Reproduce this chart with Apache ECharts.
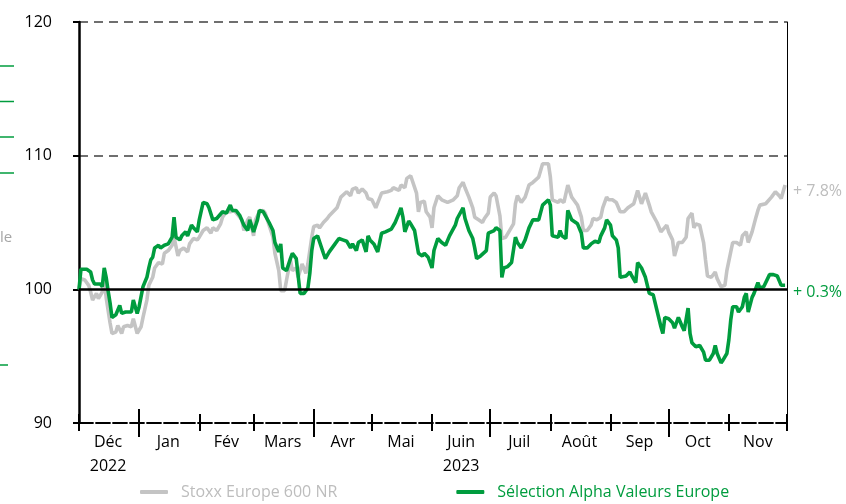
<!DOCTYPE html>
<html><head><meta charset="utf-8">
<script src="https://cdn.jsdelivr.net/npm/echarts@6/dist/echarts.min.js"></script>
<style>html,body{margin:0;padding:0;background:#fff}#c{width:846px;height:504px}</style>
</head><body><div id="c"></div>
<script>
// ---- data ----
const monthLabels = ['Déc','Jan','Fév','Mars','Avr','Mai','Juin','Juil','Août','Sep','Oct','Nov'];
const labelDates = ['2022-12-16','2023-01-16','2023-02-15','2023-03-16','2023-04-16','2023-05-16','2023-06-16','2023-07-16','2023-08-16','2023-09-16','2023-10-16','2023-11-16'];
const yearLabels = ['2022','','','','','','2023','','','','',''];
const monthStarts = ['2022-12-01','2023-02-01','2023-03-01','2023-05-01','2023-06-01','2023-08-01','2023-09-01','2023-11-01','2023-12-01'];
const quarterStarts = ['2023-01-01','2023-04-01','2023-07-01','2023-10-01'];
const yTicks = [90, 100, 110, 120];
const endLabels = ['+ 7.8%', '+ 0.3%'];

const stoxxDates = ['2022-12-01','2022-12-02','2022-12-04','2022-12-06','2022-12-07','2022-12-08','2022-12-10','2022-12-11','2022-12-13','2022-12-14','2022-12-15','2022-12-17','2022-12-18','2022-12-20','2022-12-21','2022-12-23','2022-12-24','2022-12-26','2022-12-28','2022-12-29','2022-12-31',
'2023-01-02','2023-01-03','2023-01-05','2023-01-06','2023-01-08','2023-01-09','2023-01-11','2023-01-13','2023-01-14','2023-01-16','2023-01-18','2023-01-19','2023-01-21','2023-01-22','2023-01-24','2023-01-26','2023-01-27','2023-01-29','2023-01-31',
'2023-02-01','2023-02-03','2023-02-05','2023-02-07','2023-02-08','2023-02-10','2023-02-12','2023-02-13','2023-02-15','2023-02-17','2023-02-19','2023-02-20','2023-02-23','2023-02-24','2023-02-26','2023-02-27',
'2023-03-01','2023-03-02','2023-03-04','2023-03-06','2023-03-07','2023-03-09','2023-03-11','2023-03-12','2023-03-14','2023-03-15','2023-03-17','2023-03-18','2023-03-20','2023-03-21','2023-03-23','2023-03-24','2023-03-26','2023-03-28','2023-03-29','2023-03-31',
'2023-04-01','2023-04-03','2023-04-04','2023-04-06','2023-04-08','2023-04-09','2023-04-11','2023-04-13','2023-04-15','2023-04-16','2023-04-18','2023-04-20','2023-04-21','2023-04-23','2023-04-24','2023-04-26','2023-04-28','2023-04-29',
'2023-05-01','2023-05-03','2023-05-04','2023-05-06','2023-05-07','2023-05-09','2023-05-11','2023-05-12','2023-05-15','2023-05-16','2023-05-18','2023-05-19','2023-05-21','2023-05-22','2023-05-24','2023-05-25','2023-05-26','2023-05-28','2023-05-29','2023-05-31',
'2023-06-01','2023-06-02','2023-06-04','2023-06-06','2023-06-07','2023-06-09','2023-06-10','2023-06-12','2023-06-14','2023-06-15','2023-06-17','2023-06-18','2023-06-20','2023-06-22','2023-06-23','2023-06-25','2023-06-27','2023-06-28','2023-06-30',
'2023-07-01','2023-07-03','2023-07-04','2023-07-06','2023-07-07','2023-07-09','2023-07-10','2023-07-13','2023-07-14','2023-07-15','2023-07-17','2023-07-19','2023-07-21','2023-07-23','2023-07-24','2023-07-26','2023-07-28','2023-07-29','2023-07-31',
'2023-08-01','2023-08-02','2023-08-05','2023-08-06','2023-08-08','2023-08-09','2023-08-10','2023-08-12','2023-08-13','2023-08-15','2023-08-17','2023-08-18','2023-08-20','2023-08-22','2023-08-23','2023-08-25','2023-08-27','2023-08-28','2023-08-30','2023-08-31',
'2023-09-02','2023-09-04','2023-09-06','2023-09-08','2023-09-10','2023-09-11','2023-09-13','2023-09-15','2023-09-16','2023-09-17','2023-09-19','2023-09-21','2023-09-22','2023-09-25','2023-09-27','2023-09-28','2023-09-30',
'2023-10-01','2023-10-03','2023-10-04','2023-10-06','2023-10-08','2023-10-10','2023-10-11','2023-10-13','2023-10-14','2023-10-15','2023-10-17','2023-10-19','2023-10-20','2023-10-21','2023-10-23','2023-10-25','2023-10-26','2023-10-28','2023-10-30','2023-10-31',
'2023-11-02','2023-11-03','2023-11-05','2023-11-07','2023-11-08','2023-11-10','2023-11-11','2023-11-13','2023-11-15','2023-11-16','2023-11-17','2023-11-20','2023-11-21','2023-11-23','2023-11-25','2023-11-27','2023-11-28','2023-11-30'];
const stoxxValues = [100.0,100.8,100.7,100.3,99.8,99.2,99.7,99.3,99.8,100.7,99.4,97.5,96.7,96.8,97.3,96.7,97.2,97.3,97.2,97.8,96.7,
97.2,97.9,99.2,100.3,100.9,101.6,102.0,101.9,102.7,102.9,103.3,103.9,102.5,102.9,103.1,102.8,103.4,103.8,103.7,
103.9,104.4,104.6,104.2,104.6,104.4,104.9,105.4,105.8,105.8,105.9,105.8,105.2,104.4,105.2,105.4,
104.0,105.2,105.8,105.9,105.7,104.8,103.9,102.7,101.4,99.9,99.9,100.7,102.2,101.4,101.6,100.9,101.9,101.2,101.9,103.9,
104.7,104.8,104.6,105.0,105.3,105.5,105.8,106.1,106.9,107.0,107.3,107.0,107.5,107.6,107.2,107.5,107.2,106.8,
106.7,106.1,106.1,107.2,107.3,107.3,107.4,107.6,107.4,107.8,107.6,108.3,108.5,108.4,107.2,105.8,106.5,106.6,105.8,105.4,
104.6,106.1,107.0,106.7,106.8,106.5,106.5,106.7,107.0,107.6,108.0,107.6,106.9,106.1,105.4,105.2,105.0,105.3,105.7,
106.9,107.2,107.0,105.5,103.8,103.9,104.0,104.9,106.4,107.0,106.5,106.9,107.8,108.0,108.0,108.4,109.4,109.3,109.4,
108.4,106.7,106.5,106.7,106.5,106.6,107.8,106.9,106.7,106.3,105.4,104.4,104.4,104.8,105.3,105.2,105.4,106.1,106.9,106.7,
106.7,106.5,105.8,105.8,106.1,106.1,106.4,107.4,107.3,106.4,107.2,106.3,105.8,105.0,104.3,104.2,104.8,
104.3,103.7,102.5,103.5,103.5,103.9,105.3,105.7,104.6,104.9,104.8,103.5,102.2,101.0,100.9,101.3,100.8,100.2,100.3,101.4,
102.8,103.5,103.5,103.3,104.0,104.3,103.5,104.3,105.4,105.9,106.3,106.4,106.4,106.9,107.3,107.0,106.8,107.8];

const alphaDates = ['2022-12-01','2022-12-02','2022-12-05','2022-12-07','2022-12-08','2022-12-09','2022-12-10','2022-12-12','2022-12-13','2022-12-14','2022-12-15','2022-12-16','2022-12-17','2022-12-18','2022-12-20','2022-12-21','2022-12-22','2022-12-23','2022-12-25','2022-12-26','2022-12-28','2022-12-29','2022-12-31',
'2023-01-01','2023-01-03','2023-01-05','2023-01-06','2023-01-07','2023-01-08','2023-01-09','2023-01-11','2023-01-12','2023-01-14','2023-01-16','2023-01-18','2023-01-19','2023-01-20','2023-01-22','2023-01-23','2023-01-25','2023-01-26','2023-01-28','2023-01-29','2023-01-31',
'2023-02-01','2023-02-03','2023-02-05','2023-02-06','2023-02-08','2023-02-10','2023-02-11','2023-02-13','2023-02-15','2023-02-17','2023-02-18','2023-02-20','2023-02-22','2023-02-24','2023-02-26','2023-02-27',
'2023-03-01','2023-03-03','2023-03-04','2023-03-06','2023-03-07','2023-03-09','2023-03-11','2023-03-12','2023-03-14','2023-03-15','2023-03-16','2023-03-18','2023-03-20','2023-03-21','2023-03-23','2023-03-24','2023-03-25','2023-03-27','2023-03-29','2023-03-30','2023-03-31',
'2023-04-01','2023-04-03','2023-04-04','2023-04-06','2023-04-07','2023-04-09','2023-04-12','2023-04-14','2023-04-16','2023-04-18','2023-04-20','2023-04-21','2023-04-23','2023-04-24','2023-04-26','2023-04-28','2023-04-29','2023-04-30',
'2023-05-02','2023-05-03','2023-05-04','2023-05-06','2023-05-08','2023-05-09','2023-05-11','2023-05-13','2023-05-15','2023-05-16','2023-05-17','2023-05-18','2023-05-20','2023-05-21','2023-05-23','2023-05-25','2023-05-27','2023-05-28','2023-05-30',
'2023-06-01','2023-06-02','2023-06-04','2023-06-06','2023-06-08','2023-06-10','2023-06-13','2023-06-14','2023-06-17','2023-06-18','2023-06-20','2023-06-22','2023-06-23','2023-06-24','2023-06-26','2023-06-27','2023-06-29','2023-06-30',
'2023-07-03','2023-07-04','2023-07-06','2023-07-07','2023-07-08','2023-07-10','2023-07-12','2023-07-14','2023-07-15','2023-07-17','2023-07-19','2023-07-21','2023-07-23','2023-07-24','2023-07-26','2023-07-27','2023-07-28','2023-07-31',
'2023-08-01','2023-08-02','2023-08-05','2023-08-06','2023-08-07','2023-08-09','2023-08-10','2023-08-12','2023-08-13','2023-08-15','2023-08-17','2023-08-18','2023-08-20','2023-08-22','2023-08-24','2023-08-26','2023-08-27','2023-08-29','2023-08-30',
'2023-09-01','2023-09-02','2023-09-04','2023-09-05','2023-09-06','2023-09-09','2023-09-11','2023-09-12','2023-09-14','2023-09-15','2023-09-17','2023-09-19','2023-09-20','2023-09-21','2023-09-23','2023-09-25','2023-09-27','2023-09-28','2023-09-29',
'2023-10-01','2023-10-03','2023-10-04','2023-10-05','2023-10-06','2023-10-08','2023-10-09','2023-10-11','2023-10-12','2023-10-13','2023-10-15','2023-10-17','2023-10-19','2023-10-20','2023-10-22','2023-10-24','2023-10-25','2023-10-26','2023-10-28','2023-10-29','2023-10-31',
'2023-11-01','2023-11-02','2023-11-03','2023-11-05','2023-11-06','2023-11-08','2023-11-09','2023-11-10','2023-11-11','2023-11-13','2023-11-14','2023-11-16','2023-11-17','2023-11-19','2023-11-20','2023-11-22','2023-11-24','2023-11-26','2023-11-28','2023-11-29','2023-11-30'];
const alphaValues = [100.0,101.5,101.5,101.3,100.7,100.4,100.5,100.4,100.2,101.6,100.9,99.9,99.0,97.9,98.1,98.2,98.8,98.2,98.3,98.4,98.3,99.2,98.2,
98.7,100.2,100.9,101.6,102.2,102.4,103.1,103.3,103.1,103.3,103.4,103.9,105.4,103.9,103.7,104.0,104.3,104.0,104.8,104.6,104.3,
105.2,106.5,106.4,106.1,105.2,105.3,105.3,105.8,105.7,106.3,105.9,105.9,105.5,104.8,104.4,105.2,
104.3,105.2,105.9,105.8,105.7,105.0,104.4,103.5,102.8,103.4,101.6,101.4,102.3,102.7,102.3,102.2,99.7,99.7,100.1,101.2,102.9,
103.8,104.0,103.9,102.7,102.3,102.8,103.4,103.8,103.7,103.6,103.1,103.4,102.9,103.5,103.7,102.8,104.0,103.7,
103.4,103.1,102.8,104.2,104.3,104.4,104.5,105.0,105.7,106.1,105.4,104.3,105.1,104.9,104.4,102.7,102.5,102.7,102.4,
101.6,102.9,103.8,103.5,103.3,104.0,104.8,105.3,106.1,105.3,104.4,103.8,103.1,102.3,102.5,102.4,102.9,104.2,
104.4,104.6,104.4,100.9,101.6,101.7,102.0,103.9,103.5,103.1,103.7,104.6,105.2,105.2,105.2,105.2,106.3,106.7,
106.3,104.0,103.9,104.4,104.0,103.8,105.9,105.2,105.2,104.9,104.2,103.1,103.1,103.4,103.6,103.5,104.0,104.6,105.2,
104.8,104.0,103.7,103.1,100.9,101.0,101.3,101.0,100.5,102.0,101.6,100.9,101.0,99.7,99.6,98.4,97.2,96.7,97.9,
97.8,97.5,97.1,97.5,97.9,97.2,96.9,98.6,96.7,96.0,95.7,95.8,95.3,94.7,94.7,95.2,95.8,95.2,94.5,94.7,95.2,
96.2,97.7,98.7,98.7,98.3,98.7,99.4,99.7,98.3,99.4,99.7,100.5,100.1,100.2,100.3,101.1,101.1,101.0,100.3,100.2,100.3];

// ---- helpers ----
function t(s){ const p = s.split('-').map(Number); return new Date(p[0], p[1]-1, p[2]).getTime(); }
const labelTimes = labelDates.map(t);
const monthTimes = monthStarts.map(t);
const quarterTimes = quarterStarts.map(t);
const X_MIN = t('2022-12-01'), X_MAX = t('2023-12-01');
const GREEN = '#009c3e', GRAY = '#c4c4c4', GRAYTXT = '#bdbdbd';
const FONT = 'Open Sans';

function xAx(extra){
  return Object.assign({
    type:'value', min:X_MIN, max:X_MAX, position:'bottom', scale:true,
    axisLine:{show:false}, axisLabel:{show:false}, splitLine:{show:false},
    axisPointer:{show:false}
  }, extra);
}

const chart = echarts.init(document.getElementById('c'), null, {renderer:'canvas'});
chart.setOption({
  animation:false,
  backgroundColor:'#fff',
  textStyle:{fontFamily:FONT},
  grid:{left:79, right:59, top:22, bottom:81, containLabel:false},
  xAxis:[
    xAx({
      axisLine:{show:true, lineStyle:{color:'#000', width:1.8, type:[14,3]}},
      axisTick:{show:true, customValues:monthTimes, length:8, lineStyle:{color:'#000', width:2}},
      axisLabel:{show:true, customValues:labelTimes, color:'#000', fontSize:16, fontFamily:FONT, fontWeight:'normal',
        lineHeight:24, margin:7,
        formatter:function(v){ const i = labelTimes.indexOf(v); if(i<0) return ''; return yearLabels[i] ? monthLabels[i]+'\n'+yearLabels[i] : monthLabels[i]; }}
    }),
    xAx({axisTick:{show:true, inside:true, customValues:monthTimes, length:9, lineStyle:{color:'#000', width:2}}}),
    xAx({axisTick:{show:true, customValues:quarterTimes, length:14, lineStyle:{color:'#000', width:2}}}),
    xAx({axisTick:{show:true, inside:true, customValues:quarterTimes, length:14, lineStyle:{color:'#000', width:2}}})
  ],
  yAxis:[
    {type:'value', min:yTicks[0], max:yTicks[yTicks.length-1], interval:10, position:'left',
      axisLine:{show:true, lineStyle:{color:'#000', width:2.5}},
      axisTick:{show:true, length:6, lineStyle:{color:'#000', width:2}},
      axisLabel:{color:'#000', fontSize:16, fontFamily:FONT, margin:27, padding:[0,0,12,0]},
      splitLine:{show:true, lineStyle:{color:['transparent','transparent','#404040','#404040'], width:1.5, type:[9,6]}}
    },
    {type:'value', min:yTicks[0], max:yTicks[yTicks.length-1], interval:10, position:'right',
      axisLine:{show:true, lineStyle:{color:'#000', width:1}},
      axisTick:{show:false}, axisLabel:{show:false}, splitLine:{show:false}
    }
  ],
  legend:{
    left:140, top:484, padding:0, itemWidth:28, itemHeight:4, itemGap:119, icon:'roundRect',
    textStyle:{fontSize:16, fontFamily:FONT, padding:[0,0,0,8]},
    data:[
      {name:'Stoxx Europe 600 NR', textStyle:{color:GRAYTXT}},
      {name:'Sélection Alpha Valeurs Europe', textStyle:{color:GREEN}}
    ]
  },
  series:[
    {type:'line', name:'ref100', data:[], z:1, silent:true,
      markLine:{silent:true, symbol:'none', label:{show:false}, lineStyle:{color:'#000', width:2.5, type:'solid'}, data:[{yAxis:100}]}},
    {type:'line', name:'Stoxx Europe 600 NR', z:3, showSymbol:false, symbol:'none',
      data: stoxxDates.map((d,i)=>[t(d), stoxxValues[i]]),
      lineStyle:{color:GRAY, width:3.6}, itemStyle:{color:GRAY},
      endLabel:{show:true, formatter:endLabels[0], color:GRAYTXT, fontSize:16, fontFamily:FONT, offset:[0,6]}},
    {type:'line', name:'Sélection Alpha Valeurs Europe', z:4, showSymbol:false, symbol:'none',
      data: alphaDates.map((d,i)=>[t(d), alphaValues[i]]),
      lineStyle:{color:GREEN, width:3.6}, itemStyle:{color:GREEN},
      endLabel:{show:true, formatter:endLabels[1], color:GREEN, fontSize:16, fontFamily:FONT, offset:[0,7]}}
  ],
  graphic:[
    {type:'line', shape:{x1:0,y1:66,x2:14,y2:66}, style:{stroke:GREEN, lineWidth:1.5}},
    {type:'line', shape:{x1:0,y1:101.5,x2:14,y2:101.5}, style:{stroke:GREEN, lineWidth:1.5}},
    {type:'line', shape:{x1:0,y1:137,x2:14,y2:137}, style:{stroke:GREEN, lineWidth:1.5}},
    {type:'line', shape:{x1:0,y1:173,x2:14,y2:173}, style:{stroke:GREEN, lineWidth:1.5}},
    {type:'line', shape:{x1:0,y1:365,x2:8,y2:365}, style:{stroke:GREEN, lineWidth:1.5}},
    {type:'text', left:0, top:230, style:{text:'le', fill:'#a6a6a6', fontSize:15, fontFamily:FONT}}
  ]
});
</script></body></html>
